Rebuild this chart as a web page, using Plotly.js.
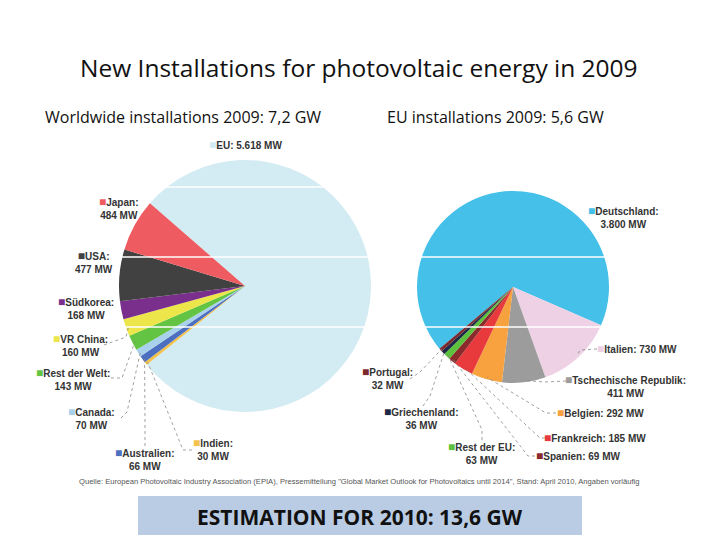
<!DOCTYPE html>
<html><head><meta charset="utf-8">
<script src="https://cdn.plot.ly/plotly-3.0.1.min.js"></script>
<style>html,body{margin:0;padding:0;background:#fff}#chart{width:720px;height:540px}</style>
</head><body><div id="chart"></div>
<script>
// ---- data ----
const worldLabels = ["EU","Indien","Australien","Canada","Rest der Welt","VR China","Südkorea","USA","Japan"];
const worldValues = [5618,30,66,70,143,160,168,477,484];
const worldColors = ["#d3ebf2","#f3c24b","#4d6fc0","#a9d1ec","#63c444","#ece64a","#7b2f8d","#414141","#ee5c61"];

const euLabels = ["Deutschland","Italien","Tschechische Republik","Belgien","Frankreich","Spanien","Rest der EU","Griechenland","Portugal"];
const euValues = [3800,730,411,292,185,69,63,36,32];
const euColors = ["#45c0e9","#efd1e6","#9c9c9c","#f7a23e","#e8393c","#8a2a2c","#5cc13c","#1e2948","#7a2a2c"];

const titleText = "New Installations for photovoltaic energy in 2009";
const worldSubtitle = "Worldwide installations 2009: 7,2 GW";
const euSubtitle = "EU installations 2009: 5,6 GW";
const sourceText = "Quelle: European Photovoltaic Industry Association (EPIA), Pressemitteilung \"Global Market Outlook for Photovoltaics until 2014\", Stand: April 2010, Angaben vorläufig";
const estimateText = "ESTIMATION FOR 2010: 13,6 GW";

// ---- layout geometry (pixels) ----
const W = 720, H = 540;
const worldPie = {cx: 245, cy: 286, r: 126, rot: -49};
const euPie = {cx: 513, cy: 287, r: 96, rot: -130};

function dom(p){
  return {x:[(p.cx-p.r)/W,(p.cx+p.r)/W], y:[1-(p.cy+p.r)/H,1-(p.cy-p.r)/H]};
}
function fmt(v){ return v>=1000 ? String(v).replace(/(\d)(\d{3})$/,"$1.$2") : String(v); }

// label placement: [labelIndex, centerX, centerY, twoLine, leader elbow points (px) or null]
const worldLabelPos = [
  [0, 245, 145, false, null],
  [8, 118, 208, true, null],
  [7, 94, 262, true, null],
  [6, 86, 308, true, null],
  [5, 80, 345, true, [[104,345],[126,337]]],
  [4, 73, 379, true, [[111,378],[122,378]]],
  [3, 91, 418, true, [[121,418],[127,412]]],
  [2, 144, 459, true, [[145,446],[145,420]]],
  [1, 213, 449, true, [[192,450],[183,450]]]
];
const euLabelPos = [
  [0, 623, 217, true, null],
  [1, 637, 349, false, [[597,349],[580,350]]],
  [2, 625, 386, true, [[566,381],[545,382]]],
  [3, 600, 413, false, [[556,413],[546,413]]],
  [4, 595, 438, false, [[545,438],[540,438]]],
  [5, 578, 456, false, [[535,456],[528,456]]],
  [6, 482, 453, true, [[482,440],[482,430]]],
  [7, 421, 418, true, [[423,406],[430,396]]],
  [8, 387, 378, true, [[410,379],[420,372]]]
];

function sliceEdge(pie, values, idx){
  const total = values.reduce((a,b)=>a+b,0);
  let cum = 0; for(let i=0;i<idx;i++) cum += values[i];
  const a = (pie.rot + 360*(cum + values[idx]/2)/total) * Math.PI/180;
  return [pie.cx + pie.r*0.98*Math.sin(a), pie.cy - pie.r*0.98*Math.cos(a)];
}

const annotations = [];
const shapes = [];
function addLabels(pie, labels, values, colors, pos){
  pos.forEach(([i,x,y,two,elbow])=>{
    const sq = `<span style="color:${colors[i]};font-size:12px">■</span>`;
    const txt = two ? `${sq}${labels[i]}:<br>${fmt(values[i])} MW` : `${sq}${labels[i]}: ${fmt(values[i])} MW`;
    annotations.push({x:x/W, y:1-y/H, xref:"paper", yref:"paper", text:txt, showarrow:false,
      xanchor:"center", yanchor:"middle", align:"center",
      font:{family:"Liberation Sans, Arial, sans-serif", size:10, color:"#333", weight:"bold"}});
    if(elbow){
      const e = sliceEdge(pie, values, i);
      const pts = elbow.concat([e]);
      let path = "M " + pts.map(p=>`${p[0]/W},${1-p[1]/H}`).join(" L ");
      shapes.push({type:"path", xref:"paper", yref:"paper", path:path, layer:"above",
        line:{color:"#888", width:0.8, dash:"dot"}});
    }
  });
}
addLabels(worldPie, worldLabels, worldValues, worldColors, worldLabelPos);
addLabels(euPie, euLabels, euValues, euColors, euLabelPos);

// white scan lines across the pies
[187,257,327].forEach(y=>{
  shapes.push({type:"line", xref:"paper", yref:"paper", x0:118/W, x1:612/W, y0:1-y/H, y1:1-y/H,
    line:{color:"#ffffff", width:1.5}, layer:"above"});
});
// estimation box
shapes.push({type:"rect", xref:"paper", yref:"paper", x0:138/W, x1:582/W, y0:1-535/H, y1:1-496/H,
  fillcolor:"#b9cce4", line:{width:0}, layer:"below"});

annotations.push(
  {x:359/W, y:1-68/H, xref:"paper", yref:"paper", text:titleText, showarrow:false, xanchor:"center", yanchor:"middle",
   font:{family:"Open Sans, sans-serif", size:24.5, color:"#111"}},
  {x:43/W, y:1-117/H, xref:"paper", yref:"paper", text:worldSubtitle, showarrow:false, xanchor:"left", yanchor:"middle",
   font:{family:"Open Sans, sans-serif", size:16, color:"#111"}},
  {x:385/W, y:1-117/H, xref:"paper", yref:"paper", text:euSubtitle, showarrow:false, xanchor:"left", yanchor:"middle",
   font:{family:"Open Sans, sans-serif", size:16, color:"#111"}},
  {x:359/W, y:1-481/H, xref:"paper", yref:"paper", text:sourceText, showarrow:false, xanchor:"center", yanchor:"middle",
   font:{family:"Liberation Sans, sans-serif", size:7.6, color:"#555"}},
  {x:360/W, y:1-517/H, xref:"paper", yref:"paper", text:estimateText, showarrow:false, xanchor:"center", yanchor:"middle",
   font:{family:"Open Sans, sans-serif", size:21, color:"#111", weight:"bold"}}
);

const traces = [
  {type:"pie", labels:worldLabels, values:worldValues, sort:false, direction:"clockwise", rotation:worldPie.rot,
   marker:{colors:worldColors, line:{width:0}}, textinfo:"none", hoverinfo:"label+value", domain:dom(worldPie), showlegend:false},
  {type:"pie", labels:euLabels, values:euValues, sort:false, direction:"clockwise", rotation:euPie.rot,
   marker:{colors:euColors, line:{width:0}}, textinfo:"none", hoverinfo:"label+value", domain:dom(euPie), showlegend:false}
];

Plotly.newPlot("chart", traces, {
  width:W, height:H, margin:{l:0,r:0,t:0,b:0}, paper_bgcolor:"#fff", plot_bgcolor:"#fff",
  showlegend:false, annotations:annotations, shapes:shapes
}, {displayModeBar:false, staticPlot:true});
</script>
</body></html>
